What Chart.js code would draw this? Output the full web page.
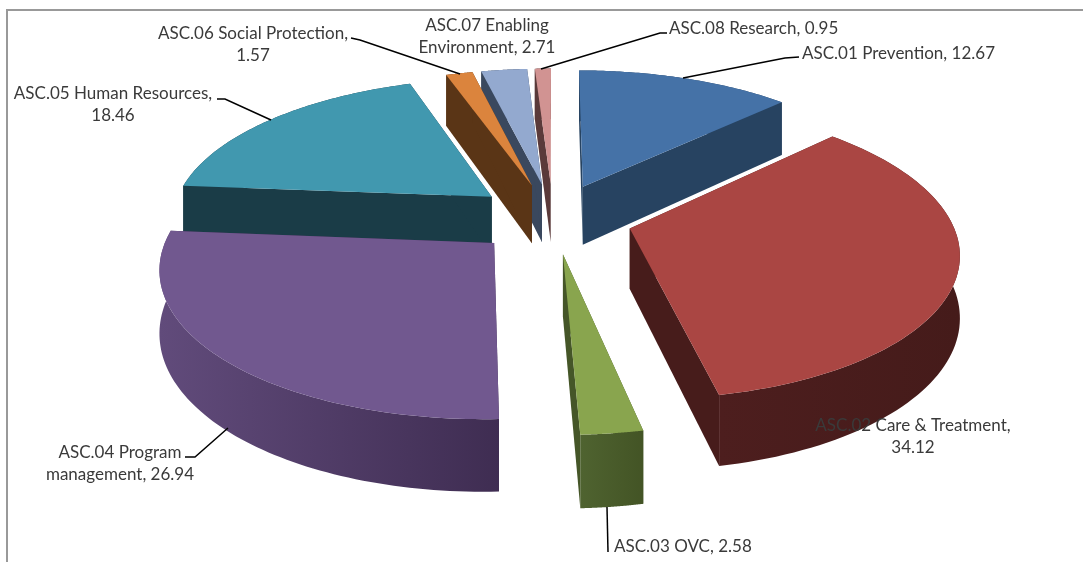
<!DOCTYPE html>
<html>
<head>
    <title>ASC spending</title>
    <script src="https://cdn.jsdelivr.net/npm/chart.js"></script>
    <style>
        body { margin: 0; background: #fff; }
        #frame { position: absolute; left: 6px; top: 9px; right: 0; bottom: 0; border-left: 2px solid #999; border-top: 2px solid #999; }
        canvas { position: absolute; left: 0; top: 0; }
    </style>
</head>
<body>
    <div id="frame"></div>
    <canvas id="myChart" width="1083" height="562"></canvas>

    <script>
        const categories = ['ASC.01 Prevention', 'ASC.02 Care & Treatment', 'ASC.03 OVC', 'ASC.04 Program management',
            'ASC.05 Human Resources', 'ASC.06 Social Protection', 'ASC.07 Enabling Environment', 'ASC.08 Research'];
        const values = [12.67, 34.12, 2.58, 26.94, 18.46, 1.57, 2.71, 0.95];

        const topColors = ['#4572a7', '#aa4643', '#89a54e', '#71588f', '#4198af', '#db843d', '#93a9cf', '#d19392'];
        const wallColors = ['#274361', '#471c1b', '#455628', '#3f2d52', '#1a3c47', '#5a3516', '#3a485e', '#5a3a3a'];
        const rimLeft = ['#274361', '#4d1e1e', '#4f6330', '#614b7b', '#1a3c47', '#5a3516', '#3a485e', '#5a3a3a'];
        const rimRight = ['#274361', '#451b1a', '#435425', '#3f2d52', '#1a3c47', '#5a3516', '#3a485e', '#5a3a3a'];

        // words on the first label line, 0 = single line
        const labelWrap = [0, 4, 0, 2, 3, 3, 2, 0];
        const labelX = [802, 913, 614, 120, 113, 253, 487, 669];
        const labelY = [54, 426, 547, 453, 94, 34, 26, 29];
        const labelAlign = ['left', 'center', 'left', 'center', 'center', 'center', 'center', 'left'];
        const leaders = [
            [[683, 78], [785, 58], [799, 57]],
            [],
            [[607, 507], [608, 552]],
            [[228, 428], [195, 457], [185, 457]],
            [[271, 120], [225, 99], [217, 99]],
            [[460, 74], [360, 40], [351, 38]],
            [],
            [[541, 69], [660, 33], [667, 33]]
        ];

        // tilt of the pie: half axes of the disc, perspective and thickness
        const discX = 321, discY = 142, persp = 0.148, depth = 60;

        const pie3d = {
            id: 'pie3d',
            beforeDatasetDraw() { return false; },
            afterDatasetsDraw(chart) {
                const ctx = chart.ctx;
                const arcs = chart.getDatasetMeta(0).data;

                // project a point of the flat pie, z 0 is the top face and 1 the bottom
                function project(arc, ang, r, z) {
                    const R = arc.outerRadius;
                    const mid = (arc.startAngle + arc.endAngle) / 2;
                    const off = arc.options.offset;
                    const u = (off * Math.cos(mid) + r * Math.cos(ang)) / R;
                    const v = (off * Math.sin(mid) + r * Math.sin(ang)) / R;
                    const s = 1 / (1 - persp * v);
                    return [arc.x + discX * u * s, arc.y + discY * v * s + depth * s * z];
                }

                function poly(pts, fill) {
                    ctx.beginPath();
                    pts.forEach(function (p, i) { i ? ctx.lineTo(p[0], p[1]) : ctx.moveTo(p[0], p[1]); });
                    ctx.closePath();
                    ctx.fillStyle = fill;
                    ctx.fill();
                }

                const order = arcs.map(function (a, i) { return i; }).sort(function (a, b) {
                    const ma = (arcs[a].startAngle + arcs[a].endAngle) / 2;
                    const mb = (arcs[b].startAngle + arcs[b].endAngle) / 2;
                    return Math.sin(ma) - Math.sin(mb);
                });

                order.forEach(function (i) {
                    const arc = arcs[i];
                    const R = arc.outerRadius;
                    const rim = [], rimLow = [];
                    const steps = 80;
                    for (let k = 0; k <= steps; k++) {
                        const ang = arc.startAngle + (arc.endAngle - arc.startAngle) * k / steps;
                        rim.push(project(arc, ang, R, 0));
                        rimLow.push(project(arc, ang, R, 1));
                    }
                    const apex = project(arc, 0, 0, 0);
                    const apexLow = project(arc, 0, 0, 1);

                    // cut walls
                    poly([apex, rim[0], rimLow[0], apexLow], wallColors[i]);
                    poly([apex, rim[steps], rimLow[steps], apexLow], wallColors[i]);

                    // outer wall
                    const xs = rim.map(function (p) { return p[0]; });
                    const grad = ctx.createLinearGradient(Math.min.apply(null, xs), 0, Math.max.apply(null, xs), 0);
                    grad.addColorStop(0, rimLeft[i]);
                    grad.addColorStop(1, rimRight[i]);
                    poly(rim.concat(rimLow.slice().reverse()), grad);

                    // top face
                    poly([apex].concat(rim), arc.options.backgroundColor);
                });

                // leader lines
                ctx.strokeStyle = '#000';
                ctx.lineWidth = 1.5;
                leaders.forEach(function (line) {
                    if (!line.length) return;
                    ctx.beginPath();
                    line.forEach(function (p, i) { i ? ctx.lineTo(p[0], p[1]) : ctx.moveTo(p[0], p[1]); });
                    ctx.stroke();
                });

                // data labels
                ctx.font = '17px Lato';
                ctx.fillStyle = '#3a3a3a';
                ctx.textBaseline = 'middle';
                categories.forEach(function (cat, i) {
                    const words = (cat + ', ' + values[i]).split(' ');
                    const n = labelWrap[i] || words.length;
                    ctx.textAlign = labelAlign[i];
                    ctx.fillText(words.slice(0, n).join(' '), labelX[i], labelY[i]);
                    if (n < words.length) ctx.fillText(words.slice(n).join(' '), labelX[i], labelY[i] + 22);
                });
            }
        };

        var ctx = document.getElementById('myChart').getContext('2d');
        var myChart = new Chart(ctx, {
            type: 'pie',
            data: {
                labels: categories,
                datasets: [{
                    data: values,
                    backgroundColor: topColors,
                    borderWidth: 0,
                    offset: 48
                }]
            },
            options: {
                responsive: false,
                animation: false,
                layout: { padding: { left: 23, right: 0, top: 0, bottom: 126 } },
                plugins: { legend: { display: false }, tooltip: { enabled: false } }
            },
            plugins: [pie3d]
        });
    </script>
</body>
</html>
